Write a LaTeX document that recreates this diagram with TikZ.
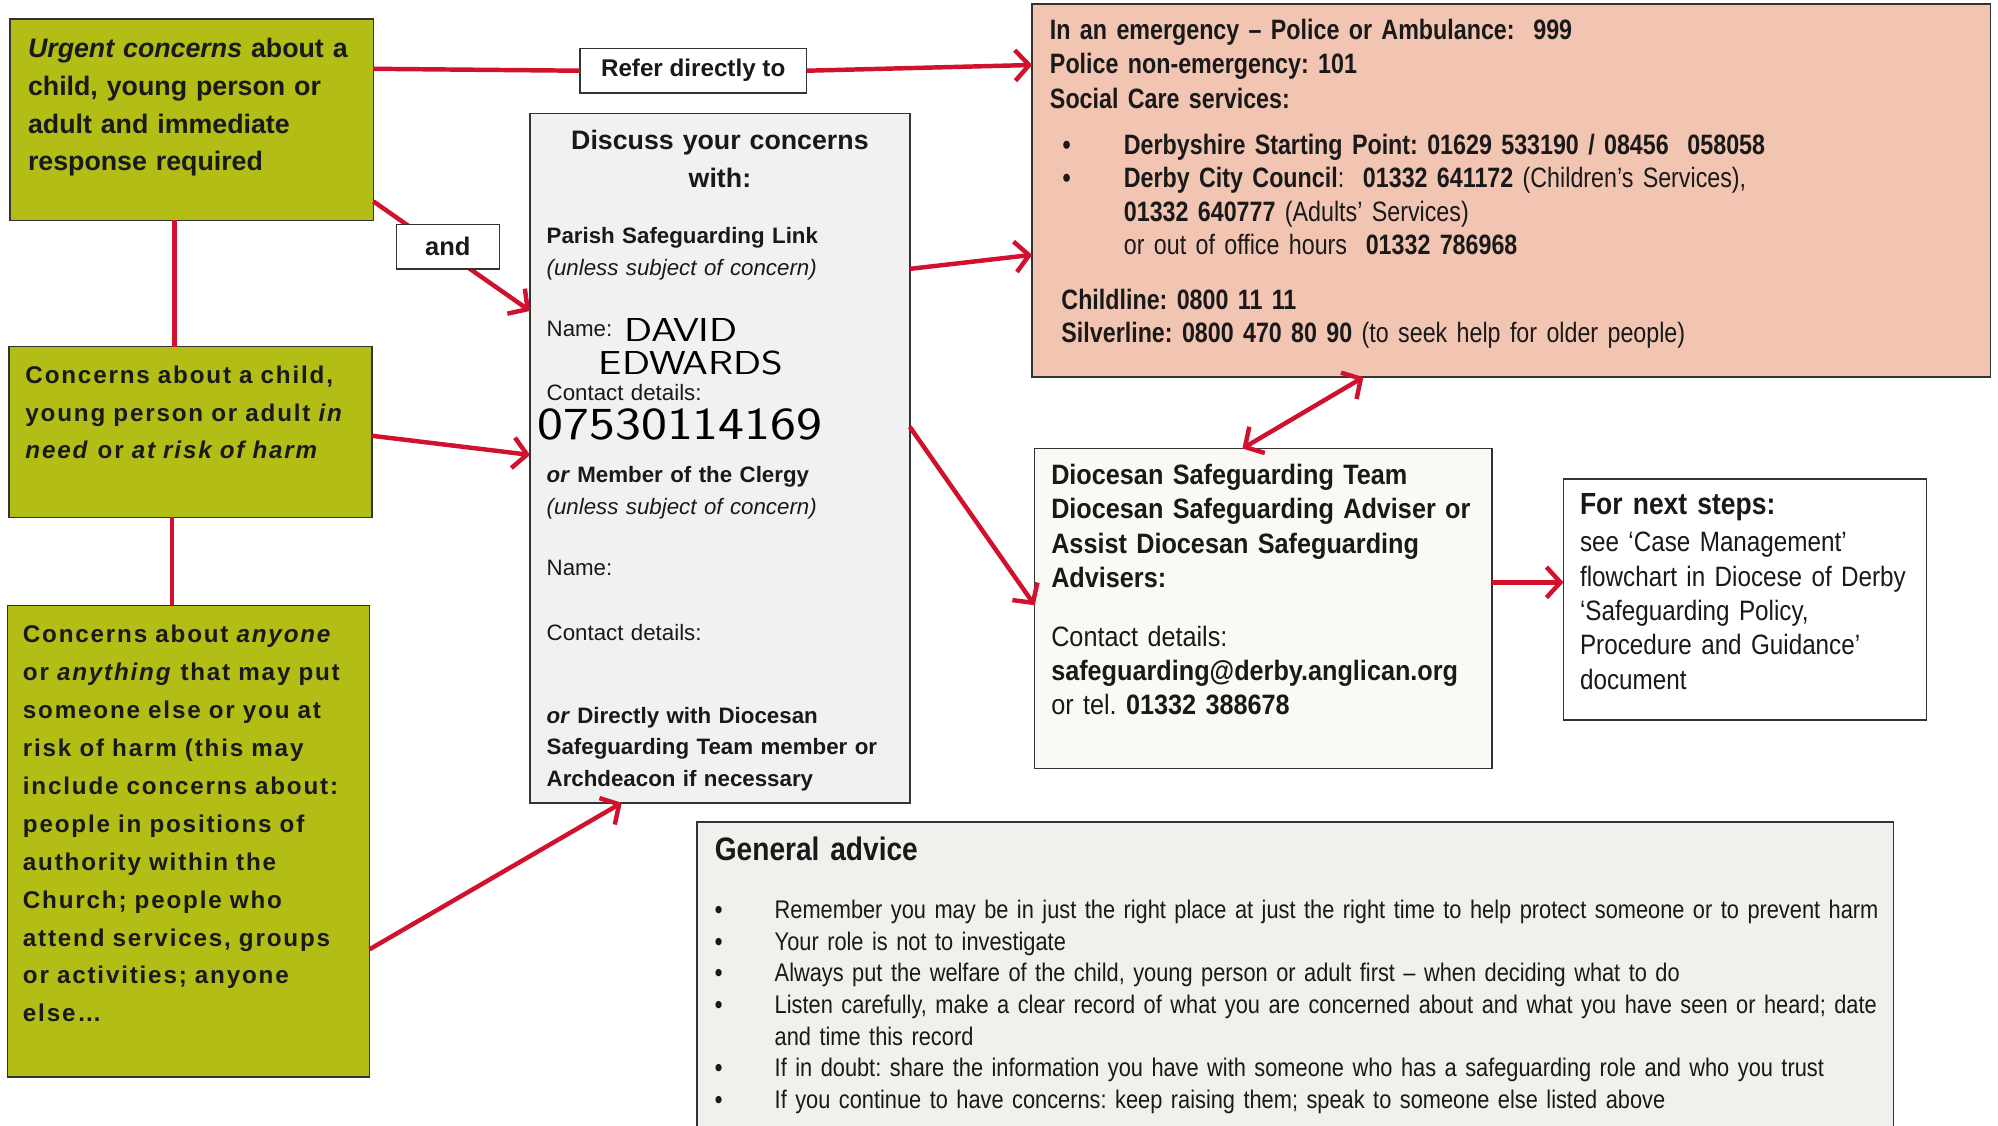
\documentclass[tikz,border=0pt]{standalone}
\usepackage{fontspec}
\usepackage{graphicx}
\setmainfont{Liberation Sans}
\newfontfamily\narrowA[FakeStretch=0.83]{Liberation Sans}
\newfontfamily\narrowB[FakeStretch=0.9]{Liberation Sans}
\newfontfamily\narrowC[FakeStretch=0.865]{Liberation Sans}
\newfontfamily\narrowD[FakeStretch=0.855]{Liberation Sans}
\newfontfamily\widefont[LetterSpace=7.5]{Liberation Sans}
\usetikzlibrary{arrows.meta}
\definecolor{gfill}{RGB}{178,189,22}
\definecolor{pinkfill}{RGB}{242,196,178}
\definecolor{discfill}{RGB}{241,241,241}
\definecolor{diocfill}{RGB}{251,249,243}
\definecolor{genfill}{RGB}{241,240,237}
\definecolor{redc}{RGB}{208,18,46}
\definecolor{txtc}{RGB}{25,25,25}
\frenchspacing
\begin{document}
\begin{tikzpicture}[x=1pt,y=-1pt,
  box/.style={draw=black!80, line width=1.2pt, anchor=north west, inner sep=0pt, outer sep=0pt},
  rl/.style={draw=redc, line width=3.5pt},
  >={Straight Barb[length=11pt,width=24pt]},
  ra/.style={rl, ->},
  txt/.style={anchor=base west, inner sep=0pt, outer sep=0pt, align=left, text width=#1, text=txtc},
  txt/.default=700pt,
]
\useasboundingbox[fill=white] (0,0) rectangle (1568,883);

% boxes
\node[box, fill=gfill, minimum width=285pt, minimum height=158pt] (g1) at (8,15) {};
\node[box, fill=gfill, minimum width=285pt, minimum height=134pt] (g2) at (7,272) {};
\node[box, fill=gfill, minimum width=284pt, minimum height=370pt] (g3) at (6,475) {};
\node[box, fill=discfill, minimum width=298pt, minimum height=541pt] (disc) at (416,89) {};
\node[box, fill=pinkfill, minimum width=752pt, minimum height=293pt] (pink) at (810,3) {};
\node[box, fill=diocfill, minimum width=359pt, minimum height=251pt] (dioc) at (812,352) {};
\node[box, fill=white, minimum width=285pt, minimum height=189pt] (next) at (1227,376) {};
\node[box, fill=genfill, minimum width=939pt, minimum height=260pt] (gen) at (547,645) {};

% connectors
\draw[rl] ([xshift=129pt]g1.south west) -- ([xshift=130pt]g2.north west);
\draw[rl] ([xshift=128pt]g2.south west) -- ([xshift=129pt]g3.north west);
\draw[ra] ([yshift=-143pt]g1.north east) -- ([yshift=-155pt]disc.north west);
\draw[ra] ([yshift=-70pt]g2.north east) -- ([yshift=-268pt]disc.north west);
\draw[ra] ([yshift=-270pt]g3.north east) -- ([xshift=72pt]disc.south west);
\draw[ra] ([yshift=-122pt]disc.north east) -- ([yshift=-197pt]pink.north west);
\draw[ra] ([yshift=-246pt]disc.north east) -- ([yshift=-123pt]dioc.north west);
\draw[rl, <->] ([xshift=260pt]pink.south west) -- ([xshift=163pt]dioc.north west);
\draw[ra] ([yshift=-105pt]dioc.north east) -- ([yshift=-81pt]next.north west);

% label boxes on top of lines
\node[box, fill=white, minimum width=178pt, minimum height=35pt] (refer) at (455,38) {};
\node[font=\fontsize{19pt}{23pt}\selectfont\bfseries, inner sep=0pt, text=txtc] (refertxt) at (refer.center) {Refer directly to};
\node[box, fill=white, minimum width=81pt, minimum height=35pt] (andb) at (311,176) {};
\node[font=\fontsize{20pt}{24pt}\selectfont\bfseries, inner sep=0pt, text=txtc] (andtxt) at (andb.center) {and};
\draw[rl] ([yshift=-39pt]g1.north east) -- (refer.west);
\draw[ra] (refer.east) -- ([yshift=-48pt]pink.north west);

% green texts
\node[txt=280pt, font=\fontsize{21pt}{29.7pt}\selectfont\bfseries] (g1t) at (22,45)
  {\textit{Urgent concerns} about a\\child, young person or\\adult and immediate\\response required};
\node[txt=280pt, font=\fontsize{19pt}{29.5pt}\selectfont\widefont\bfseries] (g2t) at (20,301)
  {Concerns about a child,\\young person or adult \textit{in}\\\textit{need} or \textit{at risk of harm}};
\node[txt=280pt, font=\fontsize{19pt}{29.8pt}\selectfont\widefont\bfseries] (g3t) at (18,504)
  {Concerns about \textit{anyone}\\or \textit{anything} that may put\\someone else or you at\\risk of harm (this may\\include concerns about:\\people in positions of\\authority within the\\Church; people who\\attend services, groups\\or activities; anyone\\else\dots};

% discuss box texts
\node[anchor=base, inner sep=0pt, align=center, text width=290pt, text=txtc, font=\fontsize{21pt}{30pt}\selectfont\bfseries] (dh) at (565,117) {Discuss your concerns\\with:};
\node[txt=290pt, font=\fontsize{17.5pt}{25pt}\selectfont] (d1) at (429,191) {\textbf{Parish Safeguarding Link}\\\textit{(unless subject of concern)}};
\node[txt=290pt, font=\fontsize{17.5pt}{25pt}\selectfont] (d2) at (429,264) {Name:};
\node[txt=290pt, font=\fontsize{17.5pt}{25pt}\selectfont] (d3) at (429,314) {Contact details:};
\node[txt=290pt, font=\fontsize{17.5pt}{25pt}\selectfont] (d4) at (429,379) {\textbf{\textit{or} Member of the Clergy}\\\textit{(unless subject of concern)}};
\node[txt=290pt, font=\fontsize{17.5pt}{25pt}\selectfont] (d5) at (429,452) {Name:};
\node[txt=290pt, font=\fontsize{17.5pt}{25pt}\selectfont] (d6) at (429,503) {Contact details:};
\node[txt=290pt, font=\fontsize{17.5pt}{24.5pt}\selectfont\bfseries] (d7) at (429,568) {\textit{or} Directly with Diocesan\\Safeguarding Team member or\\Archdeacon if necessary};
% handwriting
\node[txt=200pt, font=\fontsize{26pt}{27pt}\selectfont\sffamily, text=black] (h1) at (490,268) {\scalebox{1.25}[1]{DAVID}};
\node[txt=200pt, font=\fontsize{26pt}{27pt}\selectfont\sffamily, text=black] (h2) at (470,294) {\scalebox{1.25}[1]{EDWARDS}};
\node[txt=260pt, font=\fontsize{36pt}{40pt}\selectfont\sffamily, text=black] (h3) at (422,345) {\scalebox{1.2}[1]{07530114169}};

% pink texts
\node[txt, font=\fontsize{22pt}{27pt}\selectfont\narrowA\bfseries] (p1) at (824,31)
  {In an emergency – Police or Ambulance:\ \ 999\\Police non-emergency: 101\\Social Care services:};
\node[txt=30pt, font=\fontsize{22pt}{26.3pt}\selectfont\narrowA\bfseries] (pb) at (834,121) {•\\•};
\node[txt, font=\fontsize{22pt}{26.3pt}\selectfont\narrowA] (p2) at (882,121)
  {\textbf{Derbyshire Starting Point: 01629 533190 / 08456\ \ 058058}\\
   \textbf{Derby City Council}:\ \ \textbf{01332 641172} (Children’s Services),\\
   \textbf{01332 640777} (Adults’ Services)\\
   or out of office hours\ \ \textbf{01332 786968}};
\node[txt, font=\fontsize{22pt}{26pt}\selectfont\narrowA] (p3) at (833,243)
  {\textbf{Childline: 0800 11 11}\\\textbf{Silverline: 0800 470 80 90} (to seek help for older people)};

% diocesan texts
\node[txt=350pt, font=\fontsize{22pt}{27pt}\selectfont\narrowB\bfseries] (dt1) at (825,380)
  {Diocesan Safeguarding Team\\Diocesan Safeguarding Adviser or\\Assist Diocesan Safeguarding\\Advisers:};
\node[txt=350pt, font=\fontsize{22pt}{27pt}\selectfont\narrowB] (dt2) at (825,507)
  {Contact details:\\\textbf{safeguarding@derby.anglican.org}\\or tel. \textbf{01332 388678}};

% next steps
\node[txt=280pt, font=\fontsize{24pt}{27pt}\selectfont\narrowC\bfseries] (nt1) at (1240,404) {For next steps:};
\node[txt=280pt, font=\fontsize{22pt}{27pt}\selectfont\narrowC] (nt2) at (1240,433)
  {see ‘Case Management’\\flowchart in Diocese of Derby\\‘Safeguarding Policy,\\Procedure and Guidance’\\document};

% general advice
\node[txt, font=\fontsize{25.5pt}{27pt}\selectfont\narrowC\bfseries] (gt) at (561,675) {General advice};
\node[txt=30pt, font=\fontsize{20pt}{24.8pt}\selectfont\narrowD\bfseries] (gb) at (561,721) {•\\•\\•\\•\\\mbox{}\\•\\•};
\node[txt=920pt, font=\fontsize{20pt}{24.8pt}\selectfont\narrowD] (gl) at (608,721)
  {Remember you may be in just the right place at just the right time to help protect someone or to prevent harm\\
   Your role is not to investigate\\
   Always put the welfare of the child, young person or adult first – when deciding what to do\\
   Listen carefully, make a clear record of what you are concerned about and what you have seen or heard; date\\
   and time this record\\
   If in doubt: share the information you have with someone who has a safeguarding role and who you trust\\
   If you continue to have concerns: keep raising them; speak to someone else listed above};
\end{tikzpicture}
\end{document}
